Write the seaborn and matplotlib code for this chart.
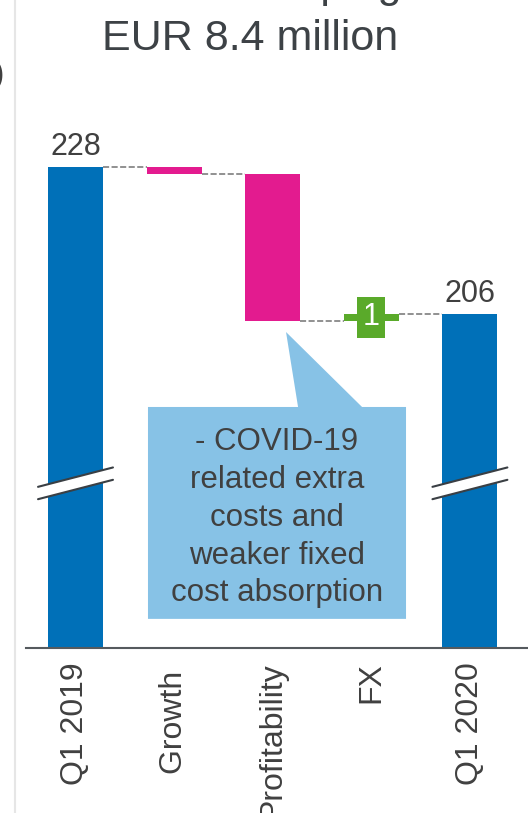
import matplotlib
matplotlib.use("Agg")
import matplotlib.pyplot as plt
import seaborn as sns
import pandas as pd
import numpy as np
from matplotlib.patches import Polygon
from matplotlib.lines import Line2D

# Bridge data (EUR million)
steps = ["Q1 2019", "Growth ", "Profitability", "FX", "Q1 2020"]
start_total = 228
deltas = [-1, -22, 1]          # Growth, Profitability, FX
end_total = 206
delta_labels = ["", "", "1"]
title_lines = ["EBITA slumping", "EUR 8.4 million"]
callout_text = "- COVID-19\nrelated extra\ncosts and\nweaker fixed\ncost absorption"

BLUE = "#0070B8"
MAGENTA = "#E31B8F"
GREEN = "#5AAA2A"
CALLOUT = "#87C2E6"
TEXT = "#404040"
TITLE = "#3D4246"
BAR_W = 0.558

sns.set_theme(style="white")
plt.rcParams["font.family"] = ["Liberation Sans", "DejaVu Sans"]

W, H = 528, 813
fig = plt.figure(figsize=(W / 100, H / 100), dpi=100)
ax = fig.add_axes([26 / W, 165 / H, 502 / W, 548 / H])

# Start and end totals
totals = pd.DataFrame({"step": [steps[0], steps[-1]], "value": [start_total, end_total]})
sns.barplot(data=totals, x="step", y="value", order=steps, color=BLUE, saturation=1,
            width=BAR_W, errorbar=None, linewidth=0, ax=ax)

# Floating delta bars
levels = np.concatenate([[start_total], start_total + np.cumsum(deltas)])
pos = np.arange(1, len(deltas) + 1)
colors = [GREEN if d > 0 else MAGENTA for d in deltas]
ax.bar(pos, deltas, bottom=levels[:-1], width=BAR_W, color=colors, linewidth=0, zorder=2)

# Dashed connectors between consecutive bars
ax.hlines(levels, np.arange(len(levels)) + BAR_W / 2, np.arange(1, len(levels) + 1) - BAR_W / 2,
          colors="#737373", linestyles=(0, (4, 1.6)), lw=1.1, zorder=1)

# Total labels
for x, v in [(0, start_total), (len(steps) - 1, end_total)]:
    ax.annotate(f"{v}", (x, v), xytext=(0, 8.6), textcoords="offset points",
                ha="center", va="baseline", fontsize=22, color=TEXT)

# Delta labels
for x, lo, d, lab in zip(pos, levels[:-1], deltas, delta_labels):
    if lab:
        ax.text(x, lo + d / 2, lab, ha="center", va="center", fontsize=22, color="white",
                zorder=4, bbox=dict(boxstyle="square,pad=0.18", fc=GREEN, ec="none"))

# Axis-break marks on the total bars
break_y, gap, rise, half = 180.65, 1.85, 2.9, 0.38
for x in (0, len(steps) - 1):
    xl, xr = x - half, x + half
    up = (break_y + gap / 2 - rise / 2, break_y + gap / 2 + rise / 2)
    lo = (break_y - gap / 2 - rise / 2, break_y - gap / 2 + rise / 2)
    ax.add_patch(Polygon([(xl, lo[0]), (xr, lo[1]), (xr, up[1]), (xl, up[0])],
                         closed=True, fc="white", ec="none", zorder=3, clip_on=False))
    ax.plot([xl, xr], up, color="#3A3F44", lw=1.5, zorder=3, clip_on=False)
    ax.plot([xl, xr], lo, color="#3A3F44", lw=1.5, zorder=3, clip_on=False)

# Callout box with pointer to the profitability bar
bx0, bx1, by0, by1 = 0.735, 3.352, 160.36, 192.08
ax.add_patch(Polygon([(bx0, by0), (bx1, by0), (bx1, by1), (2.906, by1), (2.135, 203.3),
                      (2.257, by1), (bx0, by1)], closed=True, fc=CALLOUT, ec="none", zorder=3))
ax.text((bx0 + bx1) / 2, 175.5, callout_text, ha="center", va="center",
        fontsize=22.5, color=TEXT, linespacing=1.34, zorder=4)

ax.set_xlim(-0.502, 4.589)
ax.set_ylim(156.0, 238.03)
ax.set_xticks(range(len(steps)))
ax.set_xticklabels(steps, rotation=90, fontsize=23, color=TEXT)
ax.tick_params(axis="x", length=0, pad=10)
ax.set_yticks([])
ax.set_xlabel("")
ax.set_ylabel("")
sns.despine(ax=ax, left=True)
ax.spines["bottom"].set_color("#555A5E")
ax.spines["bottom"].set_linewidth(1.5)

# Title
fig.text(250.5 / W, 1 + 3 / H, title_lines[0], ha="center", va="baseline", fontsize=31, color=TITLE)
fig.text(250.5 / W, 1 - 50 / H, title_lines[1], ha="center", va="baseline", fontsize=31, color=TITLE)

# Panel divider on the left
fig.add_artist(Line2D([15 / W, 15 / W], [0, 1], transform=fig.transFigure, color="#E6E6E6", lw=1.5))
fig.text(4 / W, 1 - 75 / H, ")", ha="right", va="center", fontsize=22, color=TEXT)

fig.savefig("out.png", dpi=100)
